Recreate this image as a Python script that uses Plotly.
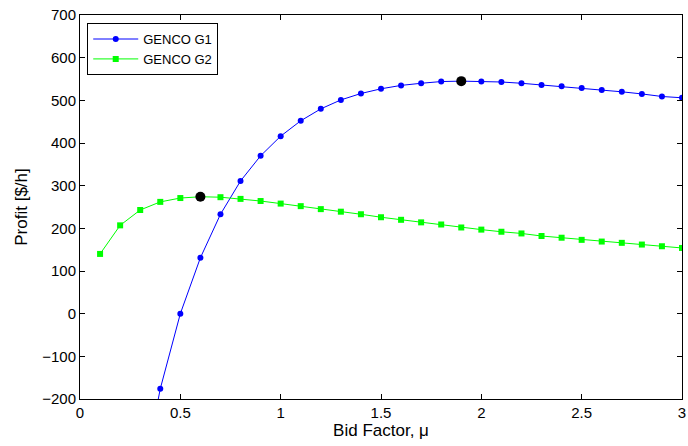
import plotly.graph_objects as go

mu_g1 = [0.3, 0.4, 0.5, 0.6, 0.7, 0.8, 0.9, 1.0, 1.1, 1.2, 1.3, 1.4, 1.5, 1.6, 1.7, 1.8, 1.9,
         2.0, 2.1, 2.2, 2.3, 2.4, 2.5, 2.6, 2.7, 2.8, 2.9, 3.0]
profit_g1 = [-420, -176, 0, 131, 233, 311, 370, 416, 452, 480, 501, 516, 527, 535, 540, 544, 545,
             544, 543, 540, 536, 533, 529, 524, 520, 515, 509, 506]

mu_g2 = [0.1, 0.2, 0.3, 0.4, 0.5, 0.6, 0.7, 0.8, 0.9, 1.0, 1.1, 1.2, 1.3, 1.4, 1.5, 1.6, 1.7,
         1.8, 1.9, 2.0, 2.1, 2.2, 2.3, 2.4, 2.5, 2.6, 2.7, 2.8, 2.9, 3.0]
profit_g2 = [140, 207, 243, 262, 271, 274, 273, 269, 264, 258, 252, 245, 239, 233, 226, 220, 214,
             209, 202, 197, 192, 188, 182, 178, 173, 169, 166, 162, 158, 154]

opt_mu = [1.9, 0.6]
opt_profit = [545, 274]

x_ticks = [0, 0.5, 1, 1.5, 2, 2.5, 3]
x_ticktext = ["0", "0.5", "1", "1.5", "2", "2.5", "3"]
y_ticks = [-200, -100, 0, 100, 200, 300, 400, 500, 600, 700]

FONT = "Liberation Sans, Arial, Helvetica"

fig = go.Figure()
fig.add_trace(go.Scatter(x=mu_g1, y=profit_g1, mode="lines+markers", name="GENCO G1",
                         line=dict(color="#0000ff", width=1),
                         marker=dict(symbol="circle", size=6, color="#0000ff")))
fig.add_trace(go.Scatter(x=mu_g2, y=profit_g2, mode="lines+markers", name="GENCO G2",
                         line=dict(color="#00ff00", width=1),
                         marker=dict(symbol="square", size=6, color="#00ff00")))
fig.add_trace(go.Scatter(x=opt_mu, y=opt_profit, mode="markers", showlegend=False,
                         marker=dict(symbol="circle", size=10, color="black")))

axis_common = dict(showgrid=False, zeroline=False, showline=True, linecolor="black", linewidth=1,
                   mirror="ticks", ticks="inside", ticklen=5, tickcolor="black",
                   ticklabeloverflow="allow",
                   tickfont=dict(family=FONT, size=15, color="black"))

fig.update_layout(
    width=688, height=446,
    margin=dict(l=80, r=2, t=15, b=47),
    paper_bgcolor="white", plot_bgcolor="white",
    font=dict(family=FONT, color="black"),
    xaxis=dict(range=[0, 3], tickvals=x_ticks, ticktext=x_ticktext,
               title=dict(text="Bid Factor, μ", font=dict(size=17), standoff=2), **axis_common),
    yaxis=dict(range=[-200, 700], tickvals=y_ticks,
               title=dict(text="Profit [$/h]", font=dict(size=17), standoff=10), **axis_common),
    legend=dict(x=0.012, y=0.979, xanchor="left", yanchor="top",
                bordercolor="black", borderwidth=1, bgcolor="white",
                font=dict(family=FONT, size=13, color="black"),
                tracegroupgap=0, itemwidth=45),
    showlegend=True,
)

fig.write_html("out.html")
